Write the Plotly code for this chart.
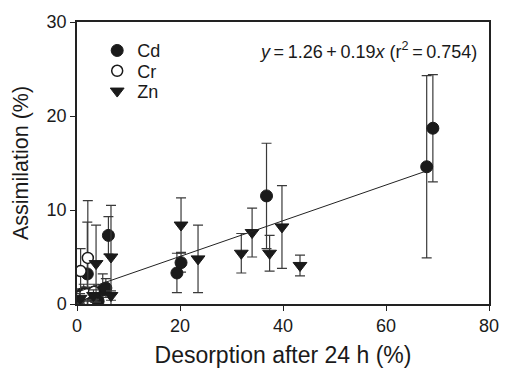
import plotly.graph_objects as go

# Cd (filled circles)
cd_x = [0.3, 0.8, 1.3, 2.0, 2.9, 3.5, 4.1, 5.0, 5.6, 6.1, 19.4, 20.2, 36.8, 67.9, 69.1]
cd_y = [0.5, 1.0, 1.2, 3.2, 1.0, 0.7, 0.3, 1.5, 1.7, 7.3, 3.3, 4.4, 11.5, 14.6, 18.7]
cd_err = [0.4, 0.6, 0.9, 5.5, 0.7, 0.5, 0.3, 1.7, 1.0, 2.0, 2.1, 1.0, 5.6, 9.7, 5.7]

# Cr (open circles)
cr_x = [0.7, 2.1, 0.4, 1.6, 3.3]
cr_y = [3.5, 4.9, 0.8, 1.1, 1.3]
cr_err = [2.4, 6.1, 0.6, 0.7, 0.8]

# Zn (down triangles)
zn_x = [0.6, 3.2, 3.7, 6.6, 6.6, 20.2, 23.5, 31.9, 34.0, 37.4, 39.8, 43.3]
zn_y = [0.6, 0.9, 4.3, 5.0, 0.9, 8.4, 4.8, 5.4, 7.6, 5.4, 8.2, 4.1]
zn_err = [0.5, 0.6, 4.1, 5.5, 0.5, 2.9, 3.6, 2.1, 2.6, 1.9, 4.4, 1.1]

# Regression
fit_intercept = 1.26
fit_slope = 0.19
fit_r2 = 0.754
fit_x = [0.0, 68.0]
fit_y = [fit_intercept + fit_slope * v for v in fit_x]

x_ticks = [0, 20, 40, 60, 80]
y_ticks = [0, 10, 20, 30]

FONT = "Liberation Sans, Arial, Helvetica, sans-serif"
INK = "#1a1a1a"
err_style = dict(type="data", visible=True, color="#3a3a3a", thickness=1.2, width=5)

fig = go.Figure()
fig.add_trace(go.Scatter(
    x=cd_x, y=cd_y, mode="markers", name="Cd", legend="legend",
    marker=dict(symbol="circle", size=12, color=INK, line=dict(color=INK, width=1)),
    error_y=dict(array=cd_err, **err_style),
))
fig.add_trace(go.Scatter(
    x=cr_x, y=cr_y, mode="markers", name="Cr", legend="legend2",
    marker=dict(symbol="circle", size=11, color="white", line=dict(color=INK, width=1.5)),
    error_y=dict(array=cr_err, **err_style),
))
fig.add_trace(go.Scatter(
    x=zn_x, y=zn_y, mode="markers", name="Zn", legend="legend3",
    marker=dict(symbol="triangle-down", size=12, color=INK, line=dict(color=INK, width=1)),
    error_y=dict(array=zn_err, **err_style),
))
fig.add_trace(go.Scatter(
    x=fit_x, y=fit_y, mode="lines", showlegend=False,
    line=dict(color="#222222", width=1),
))

fig.add_annotation(
    xref="paper", yref="paper", x=0.975, y=0.898, xanchor="right", yanchor="middle",
    text="<i>y</i>\u2009=\u20091.26\u2009+\u20090.19<i>x</i> (r<sup>2</sup>\u2009=\u2009%.3f)" % fit_r2,
    showarrow=False, font=dict(family=FONT, size=18, color=INK),
)

axis_common = dict(
    showline=True, linecolor="#222222", linewidth=1.5, mirror=True,
    ticks="outside", ticklen=5, tickwidth=1.2, tickcolor="#222222",
    showgrid=False, zeroline=False,
    tickfont=dict(family=FONT, size=18, color=INK),
)

leg_common = dict(xanchor="left", yanchor="middle", bgcolor="rgba(0,0,0,0)",
                  font=dict(family=FONT, size=18, color=INK), itemwidth=30)

fig.update_layout(
    width=511, height=376,
    margin=dict(l=77, r=12, t=15, b=68),
    paper_bgcolor="white", plot_bgcolor="white",
    font=dict(family=FONT, size=18, color=INK),
    xaxis=dict(range=[0, 80], tickvals=x_ticks,
               title=dict(text="Desorption after 24 h (%)", font=dict(family=FONT, size=23), standoff=12),
               **axis_common),
    yaxis=dict(range=[0, 30], tickvals=y_ticks,
               title=dict(text="Assimilation (%)", font=dict(family=FONT, size=21.5), standoff=12),
               **axis_common),
    legend=dict(x=0.049, y=0.898, **leg_common),
    legend2=dict(x=0.049, y=0.826, **leg_common),
    legend3=dict(x=0.049, y=0.754, **leg_common),
)

fig.write_html("out.html")
